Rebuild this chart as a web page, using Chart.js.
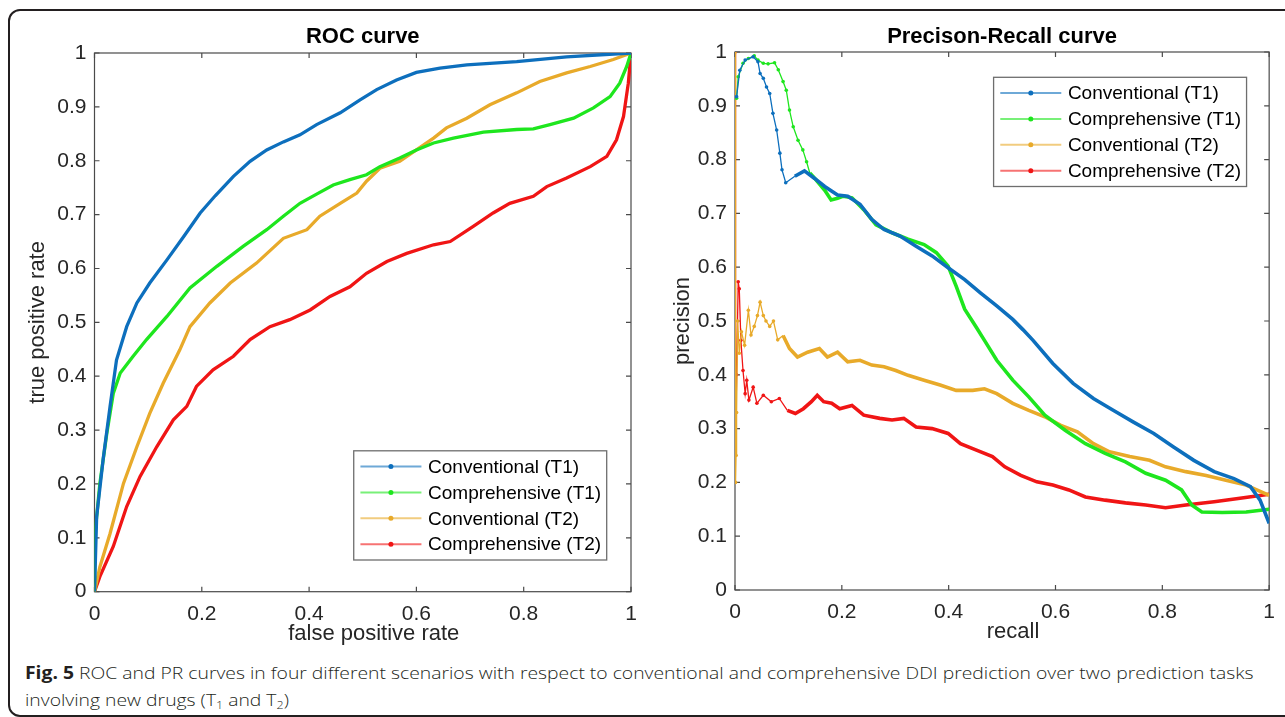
<!DOCTYPE html>
<html><head><meta charset="utf-8">
<script src="https://cdn.jsdelivr.net/npm/chart.js@4.4.1/dist/chart.umd.min.js"></script>
<style>
html,body{margin:0;padding:0;background:#fff;width:1285px;height:717px;overflow:hidden;}
#frame{position:absolute;left:8px;top:9px;width:1320px;height:708px;border:2px solid #231f20;border-radius:12px;box-sizing:border-box;}
#c1{position:absolute;left:0;top:0;}
#c2{position:absolute;left:650px;top:0;}
.cap{position:absolute;left:25px;font-family:'Open Sans',sans-serif;font-weight:300;font-size:17px;line-height:20px;color:#231f20;white-space:nowrap;transform-origin:0 50%;}
.cap b{font-weight:700;color:#231f20;}
.cap sub{font-size:11px;line-height:0;vertical-align:-3px;}
</style></head>
<body>
<div id="frame"></div>
<canvas id="c1" width="660" height="660"></canvas>
<canvas id="c2" width="635" height="660"></canvas>
<div id="cap1" class="cap" style="top:663px"><b>Fig. 5</b> ROC and PR curves in four different scenarios with respect to conventional and comprehensive DDI prediction over two prediction tasks</div>
<div id="cap2" class="cap" style="top:690px">involving new drugs (T<sub>1</sub> and T<sub>2</sub>)</div>
<script>
// ---------- DATA ----------
const seriesNames = ['Conventional (T1)', 'Comprehensive (T1)', 'Conventional (T2)', 'Comprehensive (T2)'];
const xTicks = [0, 0.2, 0.4, 0.6, 0.8, 1];
const yTicks = [0, 0.1, 0.2, 0.3, 0.4, 0.5, 0.6, 0.7, 0.8, 0.9, 1];
const rocTitle = 'ROC curve';
const prTitle = 'Precison-Recall curve';
const rocXLabel = 'false positive rate';
const rocYLabel = 'true positive rate';
const prXLabel = 'recall';
const prYLabel = 'precision';

// ROC curves
const rocFprConvT1 = [0, 0.004, 0.016, 0.029, 0.041, 0.06, 0.079, 0.103, 0.135, 0.166, 0.197, 0.225, 0.259, 0.29, 0.321, 0.352, 0.383, 0.414, 0.458, 0.495, 0.526, 0.563, 0.6, 0.644, 0.694, 0.787, 0.88, 1];
const rocTprConvT1 = [0, 0.139, 0.245, 0.344, 0.43, 0.492, 0.536, 0.573, 0.616, 0.659, 0.703, 0.735, 0.771, 0.799, 0.82, 0.835, 0.848, 0.867, 0.889, 0.913, 0.932, 0.95, 0.964, 0.972, 0.978, 0.984, 0.993, 1];

const rocFprCompT1 = [0, 0.001, 0.01, 0.023, 0.035, 0.048, 0.072, 0.097, 0.135, 0.178, 0.228, 0.277, 0.321, 0.352, 0.383, 0.414, 0.445, 0.476, 0.507, 0.532, 0.569, 0.6, 0.632, 0.669, 0.725, 0.787, 0.818, 0.849, 0.893, 0.93, 0.961, 0.979, 0.992, 1];
const rocTprCompT1 = [0, 0.108, 0.201, 0.294, 0.368, 0.406, 0.437, 0.468, 0.511, 0.564, 0.604, 0.641, 0.672, 0.697, 0.721, 0.738, 0.755, 0.765, 0.774, 0.789, 0.805, 0.82, 0.833, 0.842, 0.853, 0.858, 0.859, 0.867, 0.879, 0.898, 0.919, 0.944, 0.975, 1];

const rocFprConvT2 = [0, 0.01, 0.029, 0.054, 0.079, 0.103, 0.128, 0.159, 0.178, 0.215, 0.253, 0.302, 0.352, 0.396, 0.42, 0.458, 0.489, 0.507, 0.532, 0.569, 0.6, 0.632, 0.656, 0.694, 0.737, 0.787, 0.83, 0.88, 0.924, 0.967, 1];
const rocTprConvT2 = [0, 0.046, 0.108, 0.201, 0.269, 0.331, 0.387, 0.449, 0.492, 0.536, 0.573, 0.61, 0.656, 0.672, 0.697, 0.721, 0.74, 0.762, 0.786, 0.799, 0.82, 0.842, 0.861, 0.879, 0.904, 0.926, 0.947, 0.963, 0.975, 0.988, 1];

const rocFprCompT2 = [0, 0.01, 0.035, 0.06, 0.085, 0.116, 0.147, 0.172, 0.19, 0.221, 0.259, 0.29, 0.327, 0.364, 0.402, 0.439, 0.476, 0.507, 0.545, 0.582, 0.632, 0.663, 0.706, 0.743, 0.774, 0.818, 0.843, 0.88, 0.924, 0.955, 0.973, 0.986, 0.995, 1];
const rocTprCompT2 = [0, 0.028, 0.084, 0.158, 0.214, 0.269, 0.319, 0.344, 0.381, 0.412, 0.437, 0.468, 0.492, 0.505, 0.523, 0.548, 0.566, 0.591, 0.613, 0.628, 0.644, 0.65, 0.678, 0.703, 0.721, 0.734, 0.752, 0.768, 0.789, 0.808, 0.839, 0.882, 0.944, 1];

// Precision-Recall curves
const prRecConvT1 = [0.003, 0.009, 0.019, 0.034, 0.043, 0.047, 0.053, 0.059, 0.065, 0.071, 0.078, 0.084, 0.088, 0.095, 0.112, 0.13, 0.149, 0.168, 0.192, 0.211, 0.234, 0.256, 0.279, 0.309, 0.339, 0.369, 0.399, 0.43, 0.46, 0.49, 0.52, 0.539, 0.558, 0.595, 0.633, 0.671, 0.708, 0.746, 0.784, 0.821, 0.859, 0.897, 0.934, 0.965, 0.983, 1];
const prPrecConvT1 = [0.917, 0.966, 0.985, 0.991, 0.982, 0.96, 0.951, 0.935, 0.923, 0.886, 0.855, 0.812, 0.781, 0.757, 0.769, 0.779, 0.765, 0.75, 0.734, 0.732, 0.717, 0.689, 0.67, 0.658, 0.639, 0.621, 0.599, 0.577, 0.552, 0.528, 0.503, 0.484, 0.464, 0.421, 0.384, 0.356, 0.334, 0.312, 0.291, 0.266, 0.241, 0.22, 0.207, 0.192, 0.167, 0.124];

const prRecCompT1 = [0.003, 0.006, 0.015, 0.025, 0.036, 0.043, 0.053, 0.062, 0.074, 0.081, 0.09, 0.096, 0.102, 0.109, 0.118, 0.127, 0.134, 0.14, 0.152, 0.168, 0.18, 0.192, 0.203, 0.219, 0.241, 0.264, 0.294, 0.324, 0.354, 0.377, 0.399, 0.414, 0.43, 0.452, 0.467, 0.49, 0.52, 0.55, 0.58, 0.618, 0.656, 0.693, 0.731, 0.769, 0.806, 0.836, 0.855, 0.874, 0.912, 0.957, 1];
const prPrecCompT1 = [0.914, 0.954, 0.979, 0.988, 0.993, 0.985, 0.979, 0.978, 0.98, 0.967, 0.945, 0.929, 0.892, 0.861, 0.836, 0.818, 0.796, 0.775, 0.762, 0.743, 0.725, 0.728, 0.732, 0.729, 0.707, 0.679, 0.664, 0.652, 0.642, 0.627, 0.602, 0.565, 0.522, 0.488, 0.464, 0.427, 0.39, 0.359, 0.325, 0.297, 0.272, 0.254, 0.238, 0.217, 0.204, 0.186, 0.158, 0.145, 0.144, 0.145, 0.15];

const prRecConvT2 = [0, 0.001, 0.002, 0.003, 0.005, 0.008, 0.012, 0.018, 0.025, 0.03, 0.036, 0.042, 0.047, 0.053, 0.058, 0.065, 0.072, 0.08, 0.09, 0.102, 0.117, 0.136, 0.158, 0.173, 0.192, 0.211, 0.234, 0.256, 0.279, 0.301, 0.324, 0.354, 0.384, 0.414, 0.445, 0.467, 0.49, 0.52, 0.55, 0.58, 0.61, 0.641, 0.671, 0.701, 0.739, 0.776, 0.806, 0.844, 0.882, 0.919, 0.957, 1];
const prPrecConvT2 = [1, 0.2, 0.25, 0.33, 0.5, 0.44, 0.48, 0.455, 0.52, 0.474, 0.49, 0.51, 0.535, 0.51, 0.5, 0.49, 0.5, 0.465, 0.473, 0.449, 0.433, 0.442, 0.449, 0.433, 0.442, 0.424, 0.427, 0.418, 0.415, 0.408, 0.399, 0.39, 0.381, 0.371, 0.371, 0.374, 0.365, 0.347, 0.334, 0.322, 0.306, 0.294, 0.272, 0.257, 0.248, 0.241, 0.229, 0.22, 0.213, 0.204, 0.195, 0.176];

const prRecCompT2 = [0, 0.001, 0.003, 0.006, 0.008, 0.011, 0.015, 0.019, 0.022, 0.026, 0.034, 0.041, 0.053, 0.068, 0.083, 0.098, 0.113, 0.128, 0.143, 0.154, 0.166, 0.181, 0.196, 0.219, 0.241, 0.271, 0.294, 0.316, 0.339, 0.369, 0.399, 0.422, 0.452, 0.482, 0.505, 0.535, 0.565, 0.595, 0.625, 0.656, 0.693, 0.731, 0.769, 0.806, 0.844, 0.897, 0.942, 1];
const prPrecCompT2 = [1, 0.25, 0.4, 0.573, 0.56, 0.464, 0.408, 0.365, 0.39, 0.353, 0.377, 0.347, 0.362, 0.35, 0.356, 0.334, 0.328, 0.337, 0.35, 0.362, 0.35, 0.347, 0.337, 0.343, 0.325, 0.319, 0.316, 0.319, 0.303, 0.3, 0.291, 0.272, 0.26, 0.248, 0.229, 0.213, 0.201, 0.195, 0.186, 0.173, 0.167, 0.162, 0.158, 0.153, 0.158, 0.164, 0.17, 0.178];

// ---------- STYLE ----------
const FONT = "'Liberation Sans', Arial, Helvetica, sans-serif";
const COLORS = ['#0d6fbd', '#1ee61e', '#e8aa2a', '#f01515'];
const TEXT = '#262626';
const SPARSE_END = [0.1, 0.14, 0.09, 0.09];

Chart.defaults.font.family = FONT;
Chart.defaults.color = TEXT;

const pts = (xs, ys) => xs.map((x, i) => ({x: x, y: ys[i]}));
const fmt = v => String(+(+v).toFixed(2));

const matlabBox = {
  id: 'matlabBox',
  beforeDatasetsDraw(chart) {
    const {ctx, chartArea: a, scales: {x, y}} = chart;
    ctx.save();
    ctx.strokeStyle = '#4a4a4a';
    ctx.lineWidth = 1.2;
    ctx.strokeRect(a.left, a.top, a.right - a.left, a.bottom - a.top);
    ctx.beginPath();
    x.ticks.forEach(t => {
      const px = x.getPixelForValue(t.value);
      ctx.moveTo(px, a.bottom); ctx.lineTo(px, a.bottom - 5);
      ctx.moveTo(px, a.top); ctx.lineTo(px, a.top + 5);
    });
    y.ticks.forEach(t => {
      const py = y.getPixelForValue(t.value);
      ctx.moveTo(a.left, py); ctx.lineTo(a.left + 5, py);
      ctx.moveTo(a.right, py); ctx.lineTo(a.right - 5, py);
    });
    ctx.stroke();
    ctx.restore();
  },
  afterDraw(chart, args, opts) {
    const {ctx, chartArea: a} = chart;
    ctx.save();
    ctx.font = `22px ${FONT}`;
    ctx.fillStyle = TEXT;
    ctx.textAlign = 'center';
    ctx.textBaseline = 'middle';
    ctx.fillText(opts.xTitle, (a.left + a.right) / 2 + opts.xTitleShift, opts.xTitleY);
    ctx.restore();
  }
};

const insideLegend = {
  id: 'insideLegend',
  afterDatasetsDraw(chart, args, o) {
    const {ctx, chartArea: a} = chart;
    ctx.save();
    ctx.font = `19px ${FONT}`;
    const ds = chart.data.datasets;
    const tw = Math.max(...ds.map(d => ctx.measureText(d.label).width));
    const w = o.padL + o.lineLen + o.gap + tw + o.padR;
    const h = o.rowH * ds.length + o.padV * 2;
    const x = a.right - o.dx - w;
    const y = o.anchor === 'bottom' ? a.bottom - o.dy - h : a.top + o.dy;
    ctx.fillStyle = '#fff';
    ctx.fillRect(x, y, w, h);
    ctx.strokeStyle = '#6e6e6e';
    ctx.lineWidth = 1.3;
    ctx.strokeRect(x, y, w, h);
    ds.forEach((d, i) => {
      const cy = y + o.padV + o.rowH * (i + 0.5);
      ctx.globalAlpha = 0.6;
      ctx.strokeStyle = d.borderColor;
      ctx.lineWidth = 2;
      ctx.beginPath();
      ctx.moveTo(x + o.padL, cy);
      ctx.lineTo(x + o.padL + o.lineLen, cy);
      ctx.stroke();
      ctx.globalAlpha = 1;
      ctx.fillStyle = d.borderColor;
      ctx.beginPath();
      ctx.arc(x + o.padL + o.lineLen / 2, cy, 2.5, 0, Math.PI * 2);
      ctx.fill();
      ctx.fillStyle = '#000';
      ctx.textAlign = 'left';
      ctx.textBaseline = 'middle';
      ctx.fillText(d.label, x + o.padL + o.lineLen + o.gap, cy + 1);
    });
    ctx.restore();
  }
};

function xScale(height) {
  return {
    type: 'linear', min: 0, max: 1,
    afterBuildTicks: s => { s.ticks = xTicks.map(v => ({value: v})); },
    afterFit: s => { s.height = height; },
    grid: {display: false, drawTicks: false},
    border: {display: false},
    ticks: {padding: 10, color: TEXT, font: {size: 21}, maxRotation: 0, autoSkip: false, callback: v => fmt(v)}
  };
}
function yScale(width, title, titlePad) {
  return {
    type: 'linear', min: 0, max: 1,
    afterBuildTicks: s => { s.ticks = yTicks.map(v => ({value: v})); },
    afterFit: s => { s.width = width; },
    grid: {display: false, drawTicks: false},
    border: {display: false},
    ticks: {padding: 8, color: TEXT, font: {size: 21}, autoSkip: false, callback: v => fmt(v)},
    title: {display: true, text: title, color: TEXT, font: {size: 22}, padding: {top: titlePad, bottom: 0}}
  };
}

function rocDataset(i, xs, ys) {
  return {label: seriesNames[i], data: pts(xs, ys), borderColor: COLORS[i], backgroundColor: COLORS[i],
    borderWidth: 3.3, pointRadius: 0, showLine: true, tension: 0};
}
function prDataset(i, xs, ys, thick) {
  const end = SPARSE_END[i];
  return {label: seriesNames[i], data: pts(xs, ys), borderColor: COLORS[i], backgroundColor: COLORS[i],
    showLine: true, tension: 0, borderWidth: thick,
    segment: {borderWidth: c => (c.p0.parsed.x < end ? 1.3 : thick)},
    pointRadius: c => (c.parsed && c.parsed.x < end ? 1.8 : 0),
    pointBorderWidth: 0};
}

new Chart(document.getElementById('c1'), {
  type: 'scatter',
  data: {datasets: [
    rocDataset(0, rocFprConvT1, rocTprConvT1),
    rocDataset(1, rocFprCompT1, rocTprCompT1),
    rocDataset(2, rocFprConvT2, rocTprConvT2),
    rocDataset(3, rocFprCompT2, rocTprCompT2)
  ]},
  options: {
    responsive: false, animation: false, devicePixelRatio: 1,
    layout: {padding: {left: 0, right: 29, top: 0, bottom: 0}},
    scales: {x: xScale(68.3), y: yScale(94.5, rocYLabel, 24.8)},
    plugins: {
      legend: {display: false}, tooltip: {enabled: false},
      title: {display: true, fullSize: false, text: rocTitle, color: '#000', font: {size: 22, weight: 'bold'}, padding: {top: 23.8, bottom: 2.8}},
      matlabBox: {xTitle: rocXLabel, xTitleY: 633.5, xTitleShift: 11},
      insideLegend: {anchor: 'bottom', dx: 24.3, dy: 31.7, padL: 6.7, lineLen: 61, gap: 6.6, padR: 5.5, rowH: 25.9, padV: 2.8}
    }
  },
  plugins: [matlabBox, insideLegend]
});

new Chart(document.getElementById('c2'), {
  type: 'scatter',
  data: {datasets: [
    prDataset(0, prRecConvT1, prPrecConvT1, 3.6),
    prDataset(1, prRecCompT1, prPrecCompT1, 3.6),
    prDataset(2, prRecConvT2, prPrecConvT2, 3.6),
    prDataset(3, prRecCompT2, prPrecCompT2, 3.6)
  ]},
  options: {
    responsive: false, animation: false, devicePixelRatio: 1,
    layout: {padding: {left: 0, right: 13, top: 0, bottom: 0}},
    scales: {x: xScale(70), y: yScale(85, prYLabel, 19.8)},
    plugins: {
      legend: {display: false}, tooltip: {enabled: false},
      title: {display: true, fullSize: false, text: prTitle, color: '#000', font: {size: 22, weight: 'bold'}, padding: {top: 23.5, bottom: 2.1}},
      matlabBox: {xTitle: prXLabel, xTitleY: 631.7, xTitleShift: 11},
      insideLegend: {anchor: 'top', dx: 22.6, dy: 25.3, padL: 6.7, lineLen: 61, gap: 6.6, padR: 5.5, rowH: 25.9, padV: 2.8}
    }
  },
  plugins: [matlabBox, insideLegend]
});

// fit caption to the reference line width
(function () {
  const c1 = document.getElementById('cap1');
  const c2 = document.getElementById('cap2');
  const s = 1228 / c1.offsetWidth;
  c1.style.transform = `scaleX(${s})`;
  c2.style.transform = `scaleX(${s})`;
})();
</script>
</body></html>
